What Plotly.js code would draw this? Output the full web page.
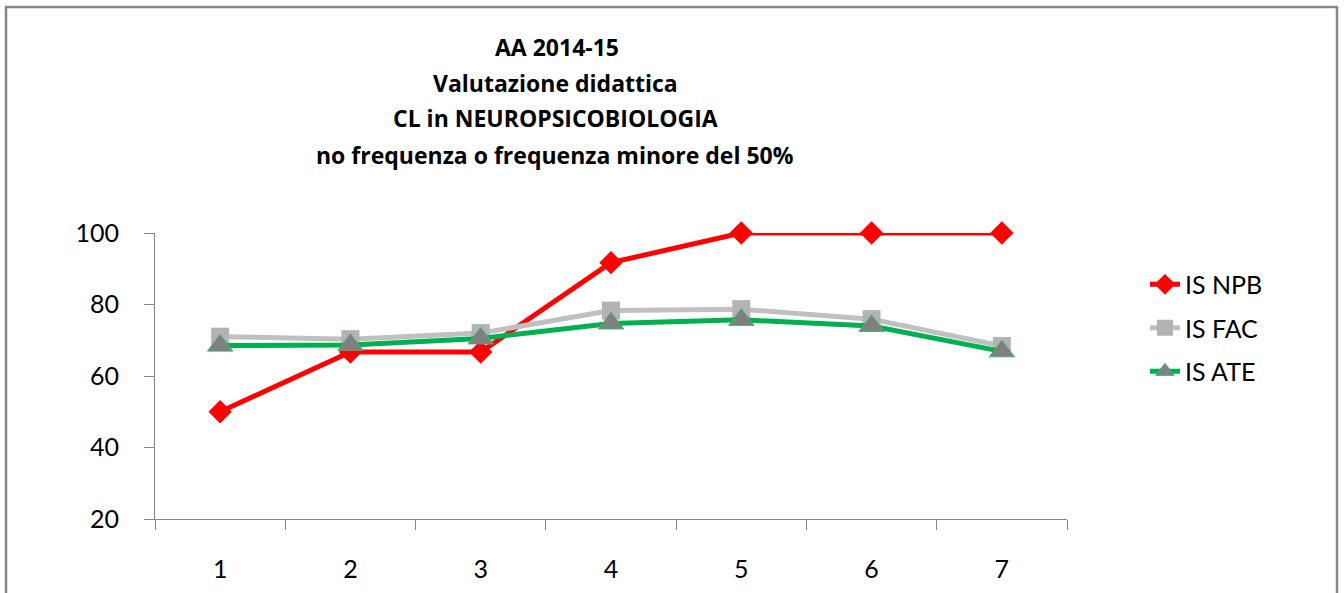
<!DOCTYPE html>
<html>
<head>
<meta charset="utf-8">
<script src="https://cdn.plot.ly/plotly-3.0.1.min.js"></script>
<style>
  html, body { margin: 0; padding: 0; background: #ffffff; }
  #chart { width: 1344px; height: 593px; }
</style>
</head>
<body>
<div id="chart"></div>
<script>
// ---- data ----
const categories = ['1', '2', '3', '4', '5', '6', '7'];
const isNPB = [50, 66.7, 66.7, 91.7, 100, 100, 100];
const isFAC = [71.0, 70.3, 72.0, 78.3, 78.7, 75.9, 68.4];
const isATE = [68.5, 68.7, 70.5, 74.7, 75.7, 74.0, 66.9];
const seriesNames = ['IS NPB', 'IS FAC', 'IS ATE'];
const yTicks = [20, 40, 60, 80, 100];
const titleLines = ['AA 2014-15', 'Valutazione didattica', 'CL in NEUROPSICOBIOLOGIA', 'no frequenza o frequenza minore del 50%'];

const FONT = 'Lato, "Open Sans", sans-serif';
const TITLE_FONT = '"Open Sans", Lato, sans-serif';

const traces = [
  {
    x: categories, y: isNPB, name: seriesNames[0], type: 'scatter', mode: 'lines+markers',
    legendgroup: 'a', cliponaxis: false,
    line: { color: '#FF0000', width: 5 },
    marker: { symbol: 'diamond', size: 18, color: '#FF0000', line: { width: 0 } }
  },
  {
    x: categories, y: isFAC, name: seriesNames[1], type: 'scatter', mode: 'lines+markers',
    legendgroup: 'b', cliponaxis: false,
    line: { color: '#C0C0C0', width: 5 },
    marker: { symbol: 'square', size: 18, color: '#B3B3B3', line: { width: 0 } }
  },
  {
    x: categories, y: isATE, name: seriesNames[2], type: 'scatter', mode: 'lines+markers',
    legendgroup: 'c', cliponaxis: false,
    line: { color: '#00B050', width: 5 },
    marker: { symbol: 'triangle-up', size: 22, color: '#808080', line: { color: '#3CB371', width: 1 } }
  }
];

const annotations = titleLines.slice(1).map((t, i) => ({
  text: '<b>' + t + '</b>',
  xref: 'paper', yref: 'paper',
  x: 0.4386, y: [1.5245, 1.402, 1.273][i],
  xanchor: 'center', yanchor: 'middle',
  showarrow: false,
  font: { family: TITLE_FONT, size: 23, color: '#000000' }
}));

const layout = {
  width: 1344, height: 593,
  paper_bgcolor: '#ffffff', plot_bgcolor: '#ffffff',
  margin: { l: 155, r: 277, t: 233, b: 74, pad: 0 },
  title: {
    text: '<b>' + titleLines[0] + '</b>',
    xref: 'container', x: 557 / 1344, xanchor: 'center',
    yref: 'container', y: 1 - 48 / 593, yanchor: 'middle',
    font: { family: TITLE_FONT, size: 23, color: '#000000' }
  },
  annotations: annotations,
  xaxis: {
    type: 'category',
    range: [-0.5, 6.5],
    showgrid: false, zeroline: false,
    showline: true, linecolor: '#868686', linewidth: 1,
    ticks: 'outside', tickson: 'boundaries', ticklen: 10, tickcolor: '#868686', tickwidth: 1,
    tickfont: { family: FONT, size: 25, color: '#000000' },
    ticklabelstandoff: 28
  },
  yaxis: {
    range: [20, 100],
    tickvals: yTicks,
    ticktext: yTicks.map(String),
    showgrid: false, zeroline: false,
    showline: true, linecolor: '#868686', linewidth: 1,
    ticks: 'outside', ticklen: 10, tickcolor: '#868686', tickwidth: 1,
    tickfont: { family: FONT, size: 25, color: '#000000' },
    ticklabelstandoff: 20
  },
  legend: {
    x: 1.0855, xanchor: 'left',
    y: 0.90, yanchor: 'top',
    font: { family: FONT, size: 25, color: '#000000' },
    bgcolor: 'rgba(0,0,0,0)',
    tracegroupgap: 8,
    traceorder: 'grouped'
  },
  shapes: [{
    type: 'rect', xref: 'paper', yref: 'paper',
    x0: (6 - 155) / 912, x1: (1337 - 155) / 912,
    y0: (519 - 620) / 286, y1: (519 - 7) / 286,
    line: { color: '#868686', width: 2.5 }, fillcolor: 'rgba(0,0,0,0)',
    layer: 'below'
  }],
  showlegend: true
};

Plotly.newPlot('chart', traces, layout, { displayModeBar: false, staticPlot: true });
</script>
</body>
</html>
